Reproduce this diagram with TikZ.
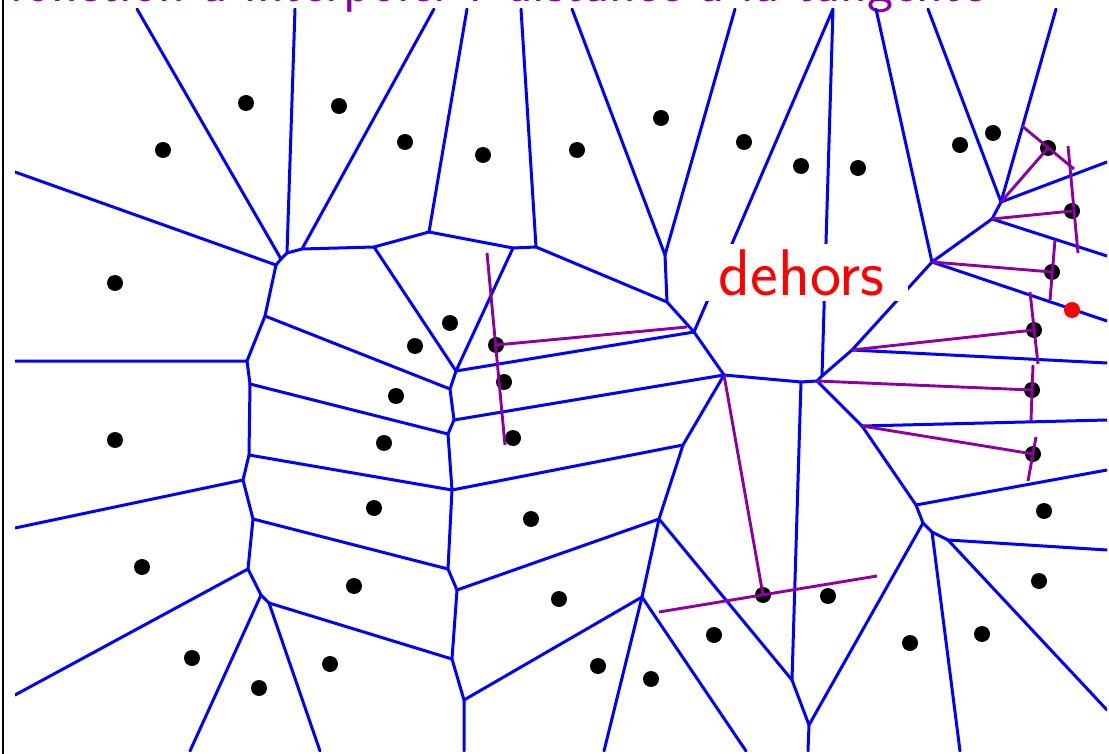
\documentclass[tikz,border=0pt]{standalone}
\usepackage{fontspec}
\definecolor{vor}{RGB}{0,0,255}
\definecolor{tang}{RGB}{140,0,160}
\begin{document}
\begin{tikzpicture}[x=1pt,y=-1pt,
  vedge/.style={draw=vor,line width=3pt,line cap=round,line join=round},
  tline/.style={draw=tang,line width=2.9pt},
  site/.style={circle,fill=black,inner sep=0pt,minimum size=16pt},
  redsite/.style={circle,fill=red,inner sep=0pt,minimum size=16pt}]
\useasboundingbox (0,0) rectangle (1109,754);
\fill[white] (0,0) rectangle (1109,754);
% frame
\draw[black,line width=2.4pt] (3,-2) -- (3,756);
% title
\node[anchor=base west,inner sep=0pt,text=tang,font=\sffamily\fontsize{55.4}{64}\selectfont] (title) at (9,2) {fonction à interpoler : distance à la tangente};
% border ends
\coordinate (t1) at (137,9); \coordinate (t2) at (295,9); \coordinate (t3) at (434,9);
\coordinate (t4) at (467,9); \coordinate (t5) at (521,9); \coordinate (t6) at (572,9);
\coordinate (t7) at (735,9); \coordinate (t8) at (833,9); \coordinate (t9) at (876,9);
\coordinate (t10) at (928,9); \coordinate (t11) at (1056,9);
\coordinate (l1) at (15,172); \coordinate (l2) at (15,361); \coordinate (l3) at (15,528); \coordinate (l4) at (15,695);
\coordinate (r1) at (1107,162); \coordinate (r2) at (1107,256); \coordinate (r3) at (1107,321); \coordinate (r4) at (1107,363);
\coordinate (r5) at (1107,420); \coordinate (r6) at (1107,470); \coordinate (r7) at (1107,550); \coordinate (r8) at (1107,710);
\coordinate (b1) at (190,751); \coordinate (b2) at (320,751); \coordinate (b3) at (464,751); \coordinate (b4) at (604,751);
\coordinate (b5) at (746,751); \coordinate (b6) at (808,751); \coordinate (b7) at (960,751);
% vertices
\coordinate (A1) at (276,265); \coordinate (A2) at (281,259); \coordinate (A3) at (287,253); \coordinate (A4) at (302,249);
\coordinate (F) at (374,247); \coordinate (B) at (429,232); \coordinate (H) at (513,248); \coordinate (C) at (536,247);
\coordinate (D) at (665,255); \coordinate (E) at (667,302);
\coordinate (G) at (456,371); \coordinate (I) at (694,332); \coordinate (P) at (450,389); \coordinate (Q) at (454,420);
\coordinate (R) at (448,434); \coordinate (T) at (452,490); \coordinate (V) at (448,569); \coordinate (X) at (457,590);
\coordinate (AA) at (452,659); \coordinate (CC) at (464,700);
\coordinate (VV1) at (265,316); \coordinate (VV2) at (247,361); \coordinate (S) at (250,384); \coordinate (U) at (249,455);
\coordinate (U2) at (243,480); \coordinate (W) at (253,519); \coordinate (BB0) at (248,569); \coordinate (BB1) at (261,595);
\coordinate (BB) at (269,603);
\coordinate (N) at (724,375); \coordinate (O) at (683,445); \coordinate (Y) at (659,519); \coordinate (Z) at (642,597);
\coordinate (K1) at (801,382); \coordinate (K2) at (817,381); \coordinate (KM) at (822,376); \coordinate (M) at (852,350);
\coordinate (J) at (932,262); \coordinate (L) at (992,219); \coordinate (K) at (1001,202);
\coordinate (RR1) at (862,426); \coordinate (RR2) at (916,505); \coordinate (RR3) at (923,523); \coordinate (RR4) at (932,532);
\coordinate (RR5) at (948,540); \coordinate (YY) at (792,680); \coordinate (YY2) at (809,725);
% Voronoi edges
\begin{scope}
\clip (15,9) rectangle (1107,751);
\draw[vedge] (l1) -- (A1) -- (A2) -- (A3) -- (A4) -- (F) -- (B) -- (H) -- (C) -- (E) -- (I) -- (N) -- (K1) -- (K2) -- (KM) -- (M) -- (J) -- (L) -- (K);
\draw[vedge] (t1) -- (A2); \draw[vedge] (t2) -- (A3); \draw[vedge] (t3) -- (A4);
\draw[vedge] (A1) -- (VV1) -- (VV2) -- (l2); \draw[vedge] (VV2) -- (S);
\draw[vedge] (VV1) -- (P) -- (Q) -- (R) -- (T) -- (V) -- (X) -- (AA) -- (CC) -- (b3);
\draw[vedge] (F) -- (G) -- (P); \draw[vedge] (H) -- (G) -- (I);
\draw[vedge] (B) -- (t4); \draw[vedge] (C) -- (t5);
\draw[vedge] (t6) -- (D) -- (t7); \draw[vedge] (D) -- (E);
\draw[vedge] (I) -- (t8) -- (KM);
\draw[vedge] (Q) -- (N); \draw[vedge] (R) -- (S); \draw[vedge] (T) -- (U);
\draw[vedge] (T) -- (O) -- (N); \draw[vedge] (V) -- (W); \draw[vedge] (X) -- (Y);
\draw[vedge] (AA) -- (BB); \draw[vedge] (CC) -- (Z);
\draw[vedge] (O) -- (Y) -- (Z); \draw[vedge] (Y) -- (YY);
\draw[vedge] (Z) -- (b4); \draw[vedge] (Z) -- (b5);
\draw[vedge] (K1) -- (YY) -- (YY2) -- (b6);
\draw[vedge] (K2) -- (RR1) -- (RR2) -- (RR3) -- (RR4) -- (RR5);
\draw[vedge] (RR1) -- (r5); \draw[vedge] (RR2) -- (r6); \draw[vedge] (RR3) -- (YY2);
\draw[vedge] (RR4) -- (b7); \draw[vedge] (RR5) -- (r7); \draw[vedge] (RR5) -- (r8);
\draw[vedge] (M) -- (r4); \draw[vedge] (J) -- (t9); \draw[vedge] (J) -- (r3);
\draw[vedge] (L) -- (r2); \draw[vedge] (K) -- (t10); \draw[vedge] (K) -- (t11); \draw[vedge] (K) -- (r1);
\draw[vedge] (S) -- (U) -- (U2) -- (l3); \draw[vedge] (U2) -- (W) -- (BB0) -- (l4);
\draw[vedge] (BB0) -- (BB1) -- (BB); \draw[vedge] (BB1) -- (b1); \draw[vedge] (BB) -- (b2);
\end{scope}
% label
\node[fill=white,text=red,inner xsep=24pt,inner ysep=5pt,anchor=base,font=\sffamily\fontsize{66}{78}\selectfont] (dehors) at (801.5,295) {dehors};
% sites
\node[site] (s1) at (163,150) {}; \node[site] (s2) at (246,103) {}; \node[site] (s3) at (339,106) {};
\node[site] (s4) at (405,142) {}; \node[site] (s5) at (483,155) {}; \node[site] (s6) at (577,150) {};
\node[site] (s7) at (661,118) {}; \node[site] (s8) at (744,142) {}; \node[site] (s9) at (801,166) {};
\node[site] (s10) at (858,168) {}; \node[site] (s11) at (960,145) {}; \node[site] (s12) at (993,133) {};
\node[site] (s13) at (1048,148) {}; \node[site] (s14) at (1072,211) {}; \node[site] (s15) at (1052,272) {};
\node[site] (s16) at (1034,330) {}; \node[redsite] (s17) at (1072,310) {}; \node[site] (s18) at (115,283) {};
\node[site] (s19) at (450,323) {}; \node[site] (s20) at (415,346) {}; \node[site] (s21) at (496,345) {};
\node[site] (s22) at (504,382) {}; \node[site] (s23) at (396,396) {}; \node[site] (s24) at (513,438) {};
\node[site] (s25) at (384,443) {}; \node[site] (s26) at (115,440) {}; \node[site] (s27) at (1032,390) {};
\node[site] (s28) at (1033,454) {}; \node[site] (s29) at (374,508) {}; \node[site] (s30) at (531,519) {};
\node[site] (s31) at (1044,511) {}; \node[site] (s32) at (142,567) {}; \node[site] (s33) at (354,586) {};
\node[site] (s34) at (559,599) {}; \node[site] (s35) at (763,595) {}; \node[site] (s36) at (828,596) {};
\node[site] (s37) at (1039,581) {}; \node[site] (s38) at (192,658) {}; \node[site] (s39) at (259,688) {};
\node[site] (s40) at (330,664) {}; \node[site] (s41) at (598,666) {}; \node[site] (s42) at (651,679) {};
\node[site] (s43) at (714,635) {}; \node[site] (s44) at (910,643) {}; \node[site] (s45) at (982,634) {};
% tangents and radii
\coordinate (pe1) at (687,327);
\coordinate (ta1) at (487,253); \coordinate (tb1) at (505,445);
\coordinate (ta2) at (659,612); \coordinate (tb2) at (877,576);
\coordinate (ta3) at (1022,126); \coordinate (tb3) at (1074,169);
\coordinate (ta4) at (1068,146); \coordinate (tb4) at (1078,253);
\coordinate (ta5) at (1055,240); \coordinate (tb5) at (1050,300);
\coordinate (ta6) at (1030,292); \coordinate (tb6) at (1038,364);
\coordinate (ta7) at (1033,365); \coordinate (tb7) at (1031,421);
\coordinate (ta8) at (1036,437); \coordinate (tb8) at (1028,481);
\draw[tline] (s21.center) -- (pe1); \draw[tline] (ta1) -- (tb1);
\draw[tline] (N) -- (s35.center); \draw[tline] (ta2) -- (tb2);
\draw[tline] (K) -- (s13.center); \draw[tline] (ta3) -- (tb3);
\draw[tline] (L) -- (s14.center); \draw[tline] (ta4) -- (tb4);
\draw[tline] (J) -- (s15.center); \draw[tline] (ta5) -- (tb5);
\draw[tline] (M) -- (s16.center); \draw[tline] (ta6) -- (tb6);
\draw[tline] (K2) -- (s27.center); \draw[tline] (ta7) -- (tb7);
\draw[tline] (RR1) -- (s28.center); \draw[tline] (ta8) -- (tb8);
\end{tikzpicture}
\end{document}
